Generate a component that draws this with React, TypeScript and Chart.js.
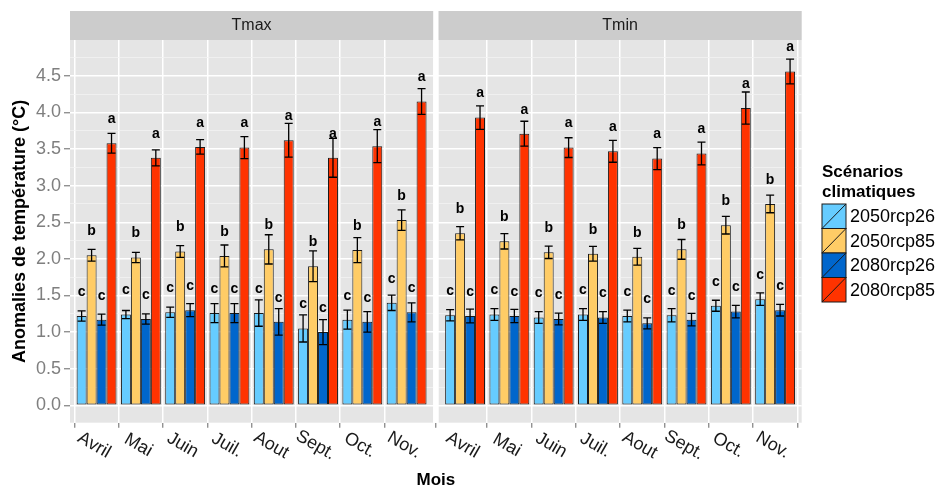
import React, { useEffect, useRef } from 'react';
import { Chart, registerables } from 'chart.js';

Chart.register(...registerables);

const FONT = '"Liberation Sans", Arial, Helvetica, sans-serif';

const months = ['Avril', 'Mai', 'Juin', 'Juil.', 'Aout', 'Sept.', 'Oct.', 'Nov.'];
const panels = ['Tmax', 'Tmin'];
const scenarios = ['2050rcp26', '2050rcp85', '2080rcp26', '2080rcp85'];
const scenarioColors = ['#66CCFF', '#FFCC66', '#0066CC', '#FF3300'];
const letters = ['c', 'b', 'c', 'a'];

// Tmax means (per month)
const tmax2050rcp26 = [1.22, 1.24, 1.27, 1.26, 1.26, 1.05, 1.17, 1.40];
const tmax2050rcp85 = [2.05, 2.02, 2.10, 2.04, 2.13, 1.90, 2.12, 2.53];
const tmax2080rcp26 = [1.17, 1.18, 1.30, 1.26, 1.14, 1.00, 1.14, 1.27];
const tmax2080rcp85 = [3.58, 3.38, 3.53, 3.52, 3.62, 3.38, 3.54, 4.15];
// Tmax error half-widths
const tmax2050rcp26Err = [0.07, 0.055, 0.07, 0.13, 0.18, 0.185, 0.13, 0.105];
const tmax2050rcp85Err = [0.08, 0.07, 0.08, 0.15, 0.20, 0.21, 0.17, 0.14];
const tmax2080rcp26Err = [0.075, 0.07, 0.09, 0.13, 0.18, 0.17, 0.14, 0.13];
const tmax2080rcp85Err = [0.135, 0.11, 0.10, 0.15, 0.23, 0.265, 0.225, 0.175];

// Tmin means
const tmin2050rcp26 = [1.23, 1.24, 1.20, 1.24, 1.22, 1.23, 1.36, 1.45];
const tmin2050rcp85 = [2.35, 2.24, 2.09, 2.07, 2.03, 2.13, 2.46, 2.75];
const tmin2080rcp26 = [1.22, 1.22, 1.18, 1.20, 1.12, 1.17, 1.28, 1.30];
const tmin2080rcp85 = [3.93, 3.71, 3.52, 3.47, 3.37, 3.44, 4.06, 4.56];
// Tmin error half-widths
const tmin2050rcp26Err = [0.077, 0.08, 0.08, 0.08, 0.08, 0.09, 0.075, 0.085];
const tmin2050rcp85Err = [0.09, 0.105, 0.085, 0.10, 0.115, 0.135, 0.12, 0.12];
const tmin2080rcp26Err = [0.095, 0.09, 0.08, 0.08, 0.075, 0.085, 0.085, 0.08];
const tmin2080rcp85Err = [0.16, 0.17, 0.135, 0.15, 0.15, 0.155, 0.22, 0.17];

const yMajorTicks = [0, 0.5, 1, 1.5, 2, 2.5, 3, 3.5, 4, 4.5];
const yMinorTicks = [0.25, 0.75, 1.25, 1.75, 2.25, 2.75, 3.25, 3.75, 4.25, 4.75];

const tmaxMeans = [tmax2050rcp26, tmax2050rcp85, tmax2080rcp26, tmax2080rcp85];
const tmaxErrs = [tmax2050rcp26Err, tmax2050rcp85Err, tmax2080rcp26Err, tmax2080rcp85Err];
const tminMeans = [tmin2050rcp26, tmin2050rcp85, tmin2080rcp26, tmin2080rcp85];
const tminErrs = [tmin2050rcp26Err, tmin2050rcp85Err, tmin2080rcp26Err, tmin2080rcp85Err];

// layout of the facets on a shared linear x axis
const EXPAND = 0.6;
const GAP = 0.12;
const PANEL_SPAN = months.length - 1 + 2 * EXPAND; // 8.2
const PANEL_OFFSET = PANEL_SPAN + GAP; // x offset of second panel
const X_MIN = -EXPAND;
const X_MAX = PANEL_OFFSET + PANEL_SPAN - EXPAND;
const Y_MIN = -0.2376;
const Y_MAX = 4.99;
const LABEL_OFFSET = 0.275;

const facetPlugin = {
  id: 'facetDecor',
  beforeDraw(chart: any) {
    const { ctx, chartArea, scales } = chart;
    const xs = scales.x;
    ctx.save();
    panels.forEach((p, pi) => {
      const off = pi * PANEL_OFFSET;
      const l = xs.getPixelForValue(X_MIN + off);
      const r = xs.getPixelForValue(X_MIN + off + PANEL_SPAN);
      ctx.fillStyle = '#E5E5E5';
      ctx.fillRect(l, chartArea.top, r - l, chartArea.bottom - chartArea.top);
      ctx.fillStyle = '#CCCCCC';
      ctx.fillRect(l, 11, r - l, chartArea.top - 11);
      ctx.fillStyle = '#1A1A1A';
      ctx.font = `16px ${FONT}`;
      ctx.textAlign = 'center';
      ctx.textBaseline = 'middle';
      ctx.fillText(p, (l + r) / 2, (11 + chartArea.top) / 2 + 0.5);
    });
    ctx.restore();
  },
  beforeDatasetsDraw(chart: any) {
    const { ctx, chartArea, scales } = chart;
    const xs = scales.x;
    const l = xs.getPixelForValue(X_MIN + PANEL_SPAN);
    const r = xs.getPixelForValue(X_MIN + PANEL_OFFSET);
    ctx.save();
    ctx.fillStyle = '#FFFFFF';
    ctx.fillRect(l, chartArea.top, r - l, chartArea.bottom - chartArea.top);
    ctx.restore();
  },
  afterDatasetsDraw(chart: any) {
    const { ctx, scales } = chart;
    const ys = scales.y;
    ctx.save();
    scenarios.forEach((s, si) => {
      const meta = chart.getDatasetMeta(si);
      const means = [...tmaxMeans[si], ...tminMeans[si]];
      const errs = [...tmaxErrs[si], ...tminErrs[si]];
      meta.data.forEach((el: any, i: number) => {
        const m = means[i];
        const e = errs[i];
        const yt = ys.getPixelForValue(m + e);
        const yb = ys.getPixelForValue(m - e);
        ctx.strokeStyle = '#000000';
        ctx.lineWidth = 1.3;
        ctx.beginPath();
        ctx.moveTo(el.x, yt);
        ctx.lineTo(el.x, yb);
        ctx.moveTo(el.x - 4, yt);
        ctx.lineTo(el.x + 4, yt);
        ctx.moveTo(el.x - 4, yb);
        ctx.lineTo(el.x + 4, yb);
        ctx.stroke();
        ctx.fillStyle = '#000000';
        ctx.font = `bold 14px ${FONT}`;
        ctx.textAlign = 'center';
        ctx.textBaseline = 'alphabetic';
        ctx.fillText(letters[si], el.x, ys.getPixelForValue(m + LABEL_OFFSET));
      });
    });
    ctx.restore();
  },
  afterDraw(chart: any) {
    const { ctx, chartArea, scales } = chart;
    const xs = scales.x;
    ctx.save();
    // rotated month labels
    ctx.fillStyle = '#1A1A1A';
    ctx.font = `18px ${FONT}`;
    ctx.textAlign = 'center';
    ctx.textBaseline = 'middle';
    panels.forEach((p, pi) => {
      months.forEach((mo, mi) => {
        const px = xs.getPixelForValue(mi + pi * PANEL_OFFSET);
        ctx.save();
        ctx.translate(px - 2.5, chartArea.bottom + 22.5);
        ctx.rotate((30 * Math.PI) / 180);
        ctx.fillText(mo, 0, 0);
        ctx.restore();
      });
    });
    // legend
    const lx = 822;
    ctx.fillStyle = '#000000';
    ctx.font = `bold 17px ${FONT}`;
    ctx.textAlign = 'left';
    ctx.textBaseline = 'alphabetic';
    ctx.fillText('Scénarios', lx, 176.7);
    ctx.fillText('climatiques', lx, 196.7);
    const kh = 24.5;
    const kw = 24;
    scenarios.forEach((s, si) => {
      const y0 = 204 + si * kh;
      ctx.fillStyle = scenarioColors[si];
      ctx.fillRect(lx, y0, kw, kh);
      ctx.strokeStyle = '#1A1A1A';
      ctx.lineWidth = 1;
      ctx.strokeRect(lx, y0, kw, kh);
      ctx.beginPath();
      ctx.moveTo(lx, y0 + kh);
      ctx.lineTo(lx + kw, y0);
      ctx.stroke();
      ctx.fillStyle = '#000000';
      ctx.font = `18px ${FONT}`;
      ctx.textBaseline = 'middle';
      ctx.fillText(s, lx + kw + 4, y0 + kh / 2 + 1);
    });
    ctx.restore();
  },
};

export default function App() {
  const ref = useRef<HTMLCanvasElement | null>(null);

  useEffect(() => {
    if (!ref.current) return;
    Chart.defaults.font.family = FONT;
    const xTicks = [
      ...months.map((_, i) => i),
      ...months.map((_, i) => i + PANEL_OFFSET),
    ];
    const yTicks = [...yMajorTicks, ...yMinorTicks].sort((a, b) => a - b);
    const isMajor = (v: number) => yMajorTicks.some((m) => Math.abs(m - v) < 1e-6);

    const datasets = scenarios.map((s, si) => ({
      label: s,
      data: [
        ...tmaxMeans[si].map((v, i) => ({ x: i, y: v })),
        ...tminMeans[si].map((v, i) => ({ x: i + PANEL_OFFSET, y: v })),
      ],
      backgroundColor: scenarioColors[si],
      borderColor: '#1A1A1A',
      borderWidth: 1,
      borderSkipped: false,
      categoryPercentage: 0.9,
      barPercentage: 1,
    }));

    const chart = new Chart(ref.current, {
      type: 'bar',
      data: { datasets },
      plugins: [facetPlugin],
      options: {
        responsive: false,
        animation: false,
        events: [],
        layout: { padding: { top: 40, right: 134.3, bottom: 0, left: 0 } },
        plugins: {
          legend: { display: false },
          tooltip: { enabled: false },
        },
        scales: {
          x: {
            type: 'linear',
            min: X_MIN,
            max: X_MAX,
            offset: false,
            afterBuildTicks: (scale: any) => {
              scale.ticks = xTicks.map((v) => ({ value: v }));
            },
            afterFit: (scale: any) => {
              scale.height = 66.3;
            },
            ticks: { display: false },
            grid: {
              color: '#FFFFFF',
              lineWidth: 1.5,
              drawTicks: true,
              tickLength: 5,
              tickColor: '#7F7F7F',
              tickWidth: 1.2,
            },
            border: { display: false },
            title: {
              display: true,
              text: 'Mois',
              color: '#000000',
              font: { family: FONT, size: 17, weight: 'bold' },
              padding: { top: 0, bottom: -2 },
            },
          },
          y: {
            type: 'linear',
            min: Y_MIN,
            max: Y_MAX,
            afterBuildTicks: (scale: any) => {
              scale.ticks = yTicks.map((v) => ({ value: v }));
            },
            afterFit: (scale: any) => {
              scale.width = 70;
            },
            ticks: {
              autoSkip: false,
              color: '#7F7F7F',
              font: { family: FONT, size: 18 },
              padding: 3,
              callback: (v: any) => (isMajor(Number(v)) ? Number(v).toFixed(1) : ''),
            },
            grid: {
              color: (c: any) => (c.tick && isMajor(c.tick.value) ? '#FFFFFF' : '#F2F2F2'),
              lineWidth: (c: any) => (c.tick && isMajor(c.tick.value) ? 1.5 : 0.8),
              drawTicks: true,
              tickLength: 6,
              tickColor: (c: any) => (c.tick && isMajor(c.tick.value) ? '#7F7F7F' : 'rgba(0,0,0,0)'),
              tickWidth: 1.2,
            },
            border: { display: false },
            title: {
              display: true,
              text: 'Anomalies de température (°C)',
              color: '#000000',
              font: { family: FONT, size: 18, weight: 'bold' },
              padding: { top: 9, bottom: 0 },
            },
          },
        },
      } as any,
    });
    return () => chart.destroy();
  }, []);

  return (
    <div style={{ position: 'fixed', left: 0, top: 0, width: 936, height: 489, background: '#FFFFFF' }}>
      <canvas ref={ref} width={936} height={489} style={{ display: 'block', width: 936, height: 489 }} />
    </div>
  );
}
